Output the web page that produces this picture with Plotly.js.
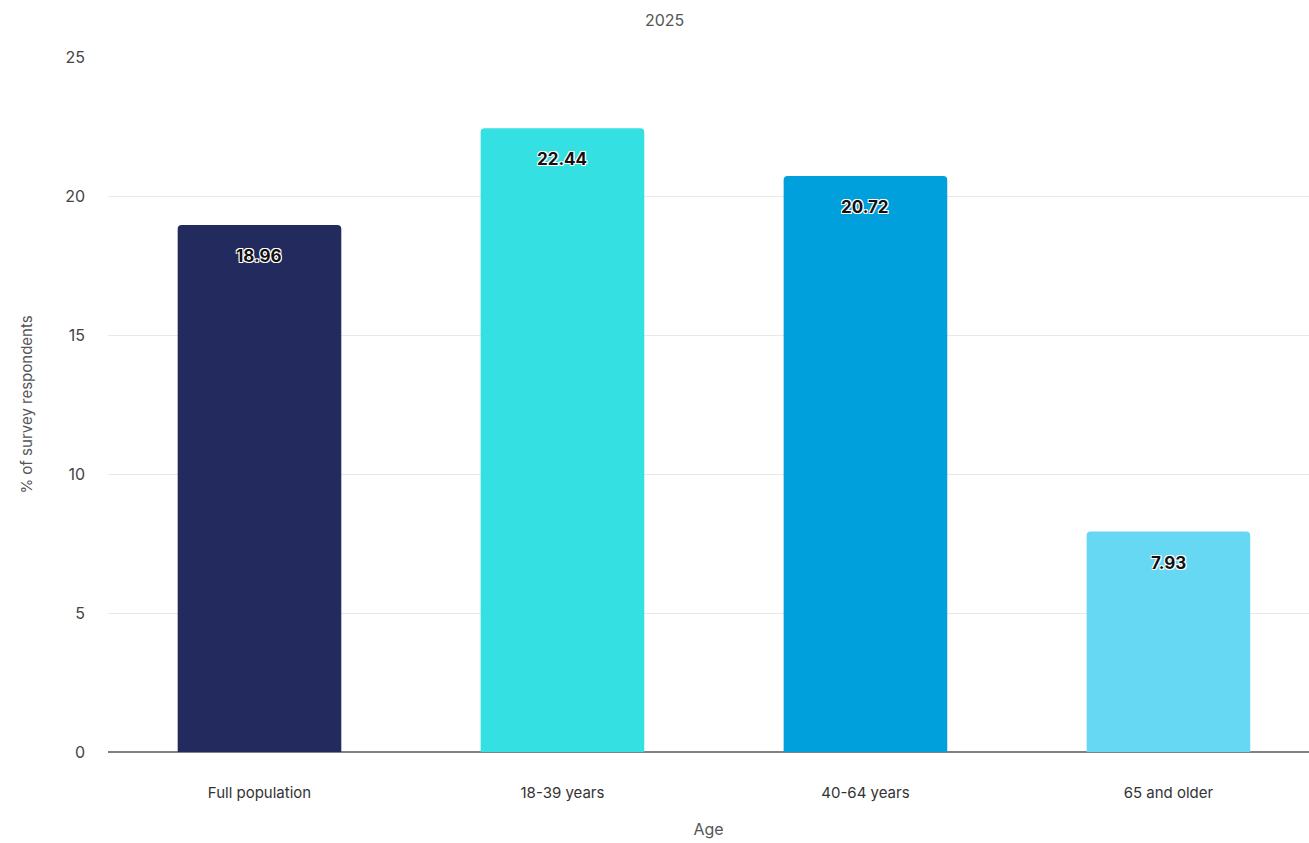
<!DOCTYPE html>
<html>
<head>
<meta charset="utf-8">
<script src="https://cdn.plot.ly/plotly-3.0.1.min.js"></script>
<style>html,body{margin:0;padding:0;background:#fff;}#chart{width:1309px;height:843px;}</style>
</head>
<body>
<div id="chart"></div>
<script>
const categories = ["Full population", "18-39 years", "40-64 years", "65 and older"];
const values = [18.96, 22.44, 20.72, 7.93];
const barColors = ["#222a5e", "#35e0e2", "#00a0dc", "#66d8f4"];
const yTicks = [0, 5, 10, 15, 20, 25];
const subtitle = "2025";
const xTitle = "Age";
const yTitle = "% of survey respondents";

const trace = {
  type: "bar",
  x: categories,
  y: values,
  marker: {color: barColors, cornerradius: 4},
  width: 0.54,
  hoverinfo: "x+y"
};

const annotations = categories.map((c, i) => ({
  x: c, y: values[i], xref: "x", yref: "y",
  text: values[i].toFixed(2),
  showarrow: false, yshift: -31,
  font: {family: "Inter, sans-serif", size: 17, color: "#111", weight: 700,
         shadow: "1px 1px 0 #fff, -1px -1px 0 #fff, 1px -1px 0 #fff, -1px 1px 0 #fff"}
}));
annotations.push({
  text: subtitle, xref: "paper", yref: "paper", x: 0.463, y: 1, yshift: 49,
  showarrow: false, font: {family: "Inter, sans-serif", size: 16, color: "#555"}
});

const layout = {
  width: 1309, height: 843,
  margin: {l: 108, r: 0, t: 57, b: 91},
  paper_bgcolor: "#fff", plot_bgcolor: "#fff",
  showlegend: false,
  bargap: 0.46,
  xaxis: {
    type: "category", range: [-0.5, 3.464],
    showgrid: false, zeroline: false, showline: false, ticks: "",
    ticklabelstandoff: 30,
    tickfont: {family: "Inter, sans-serif", size: 15, color: "#333"},
    title: {text: xTitle, standoff: 22, font: {family: "Inter, sans-serif", size: 16, color: "#555"}}
  },
  yaxis: {
    range: [0, 25], tickvals: yTicks, ticktext: yTicks.map(String),
    showgrid: true, gridcolor: "#e8e8e8", gridwidth: 1,
    zeroline: true, zerolinecolor: "#808080", zerolinewidth: 2,
    showline: false, ticks: "", ticklabelstandoff: 22,
    tickfont: {family: "Inter, sans-serif", size: 16, color: "#444"},
    title: {text: yTitle, standoff: 28, font: {family: "Inter, sans-serif", size: 15, color: "#555"}}
  },
  annotations: annotations
};

Plotly.newPlot("chart", [trace], layout, {displayModeBar: false, staticPlot: true});
</script>
</body>
</html>
